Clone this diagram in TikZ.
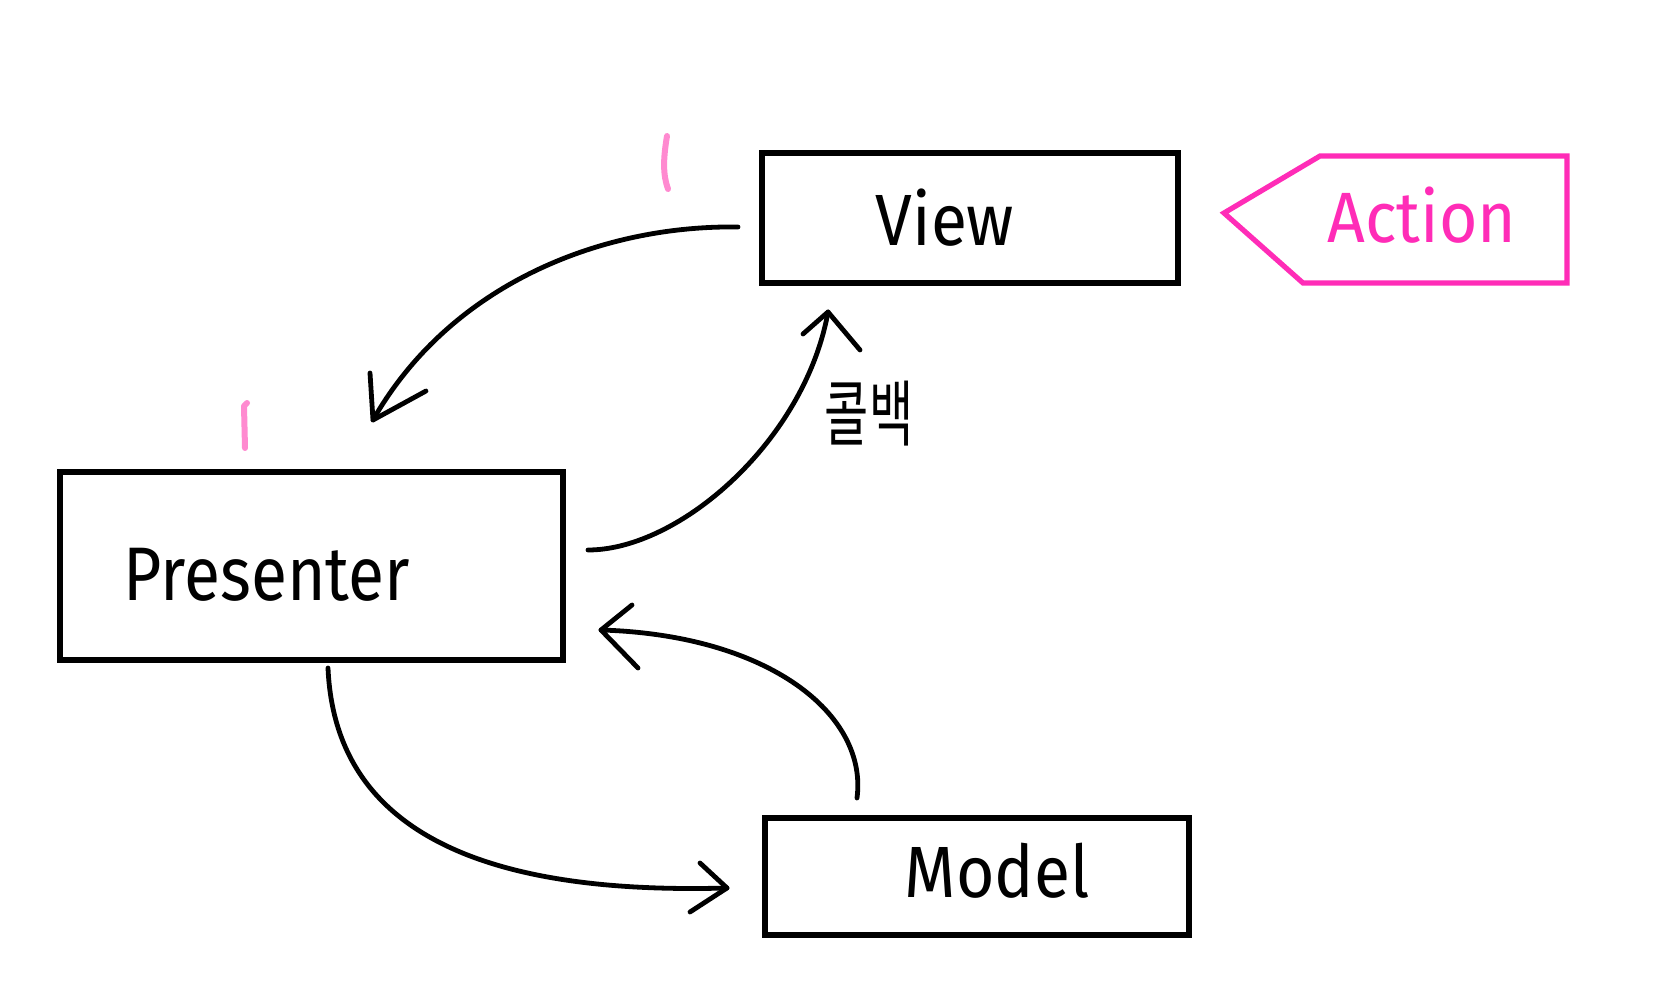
\documentclass[tikz,border=0pt]{standalone}
\usepackage{graphicx}
\usepackage{fontspec}
\setmainfont{Fira Sans}
\newfontfamily\krfont{Noto Sans CJK KR}
\definecolor{actpink}{RGB}{255,44,183}
\definecolor{markpink}{RGB}{255,138,208}
\begin{document}
\begin{tikzpicture}[x=0.5pt,y=-0.5pt,
  box/.style={draw=black, line width=2.6pt, inner sep=0pt},
  lbl/.style={font=\fontsize{33}{36}\selectfont, inner sep=0pt},
  conn/.style={line width=2.4pt, line cap=round, line join=round},
  pinkmark/.style={markpink, line width=3pt, line cap=round, line join=round}]
\useasboundingbox (0,0) rectangle (1666,1000);
\fill[white] (0,0) rectangle (1666,1000);

% boxes
\node[box, minimum width=208pt, minimum height=65pt] (view) at (970,218) {};
\node[lbl] (viewtxt) at (945,218) {\scalebox{1}[1.1]{View}};
\node[box, minimum width=251.5pt, minimum height=94pt] (presenter) at (311.5,566) {};
\node[lbl] (presentertxt) at (267,575) {\scalebox{1}[1.15]{Presenter}};
\node[box, minimum width=212pt, minimum height=58.5pt] (model) at (977,876.5) {};
\node[lbl] (modeltxt) at (997,871) {\scalebox{1}[1.1]{Model}};

% action tag
\draw[actpink, line width=2.6pt, line join=miter] (1224,213) -- (1320,156) -- (1567,156) -- (1567,283) -- (1303,283) -- cycle;
\node[lbl, text=actpink] (actiontxt) at (1422,215) {\scalebox{1}[1.08]{Action}};

% pink marks
\draw[pinkmark] (667,136) .. controls (663,160) and (663,175) .. (668,189);
\draw[pinkmark] (247,403) -- (244,406) -- (245,448);

% arrow View -> Presenter
\coordinate (a1s) at (738,227);
\coordinate (a1t) at (373,420);
\coordinate (a1l) at (370,373);
\coordinate (a1r) at (426,391);
\draw[conn] (a1s) .. controls (600,225) and (450,285) .. (a1t);
\draw[conn] (a1l) -- (a1t) -- (a1r);

% arrow Presenter -> View (callback)
\coordinate (a2s) at (588,550);
\coordinate (a2t) at (828,312);
\coordinate (a2l) at (803,334);
\coordinate (a2r) at (860,350);
\draw[conn] (a2s) .. controls (680,550) and (805,440) .. (a2t);
\draw[conn] (a2l) -- (a2t) -- (a2r);
\node[font=\krfont\fontsize{24}{26}\selectfont, inner sep=0pt] (cb) at (869,414) {\scalebox{1}[1.5]{콜백}};

% arrow Model -> Presenter
\coordinate (a3s) at (857,798);
\coordinate (a3t) at (601,630);
\coordinate (a3l) at (632,605);
\coordinate (a3r) at (638,668);
\draw[conn] (a3s) .. controls (868,715) and (770,635) .. (a3t);
\draw[conn] (a3l) -- (a3t) -- (a3r);

% arrow Presenter -> Model
\coordinate (a4s) at (328,668);
\coordinate (a4t) at (727,888);
\coordinate (a4l) at (700,863);
\coordinate (a4r) at (690,912);
\draw[conn] (a4s) .. controls (335,830) and (480,895) .. (a4t);
\draw[conn] (a4l) -- (a4t) -- (a4r);
\end{tikzpicture}
\end{document}
